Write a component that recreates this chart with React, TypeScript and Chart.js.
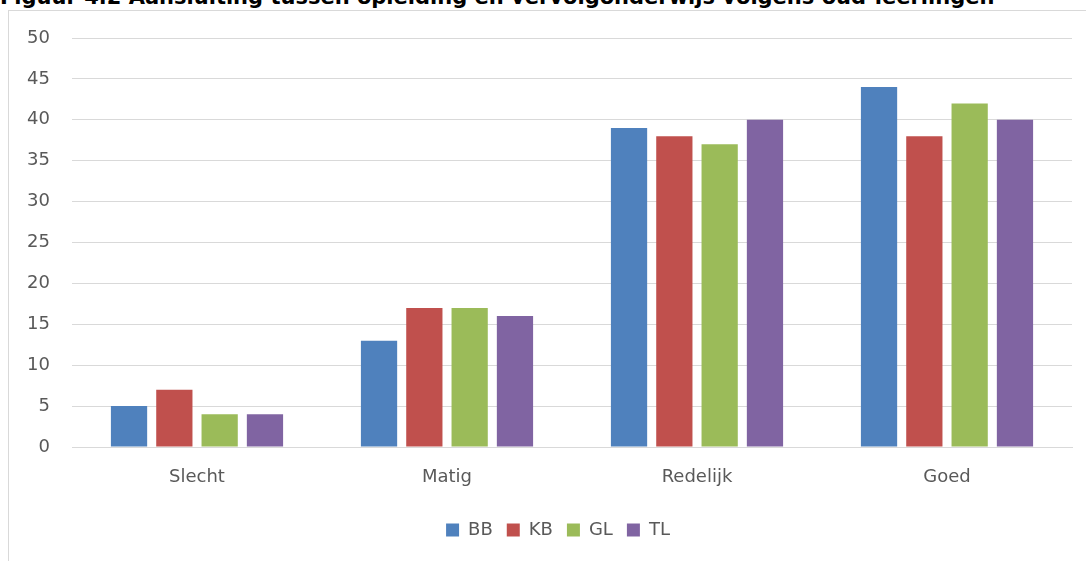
import React, { useEffect, useRef } from "react";
import { Chart, registerables } from "chart.js";

Chart.register(...registerables);

const categories = ["Slecht", "Matig", "Redelijk", "Goed"];
const seriesNames = ["BB", "KB", "GL", "TL"];
const bbValues = [5, 13, 39, 44];
const kbValues = [7, 17, 38, 38];
const glValues = [4, 17, 37, 42];
const tlValues = [4, 16, 40, 40];
const seriesColors = ["#4F81BD", "#C0504D", "#9BBB59", "#8064A2"];
const titleText = "Figuur 4.2 Aansluiting tussen opleiding en vervolgonderwijs volgens oud-leerlingen";

const legendShift = {
  id: "legendShift",
  afterLayout(chart: any) {
    const l = chart.legend;
    if (l) {
      l.left += 22;
      l.right += 22;
    }
  },
};

export default function App() {
  const ref = useRef<HTMLCanvasElement | null>(null);

  useEffect(() => {
    document.body.style.margin = "0";
    const values = [bbValues, kbValues, glValues, tlValues];
    const chart = new Chart(ref.current!, {
      type: "bar",
      data: {
        labels: categories,
        datasets: seriesNames.map((n, i) => ({
          label: n,
          data: values[i],
          backgroundColor: seriesColors[i],
          borderWidth: 0,
          categoryPercentage: 0.725,
          barPercentage: 0.8,
        })),
      },
      plugins: [legendShift],
      options: {
        animation: false,
        responsive: false,
        devicePixelRatio: 1,
        layout: { padding: { top: 38, right: 14, bottom: 12, left: 0 } },
        plugins: {
          title: { display: false },
          tooltip: { enabled: false },
          legend: {
            position: "bottom",
            labels: {
              boxWidth: 13,
              boxHeight: 13,
              padding: 14,
              color: "#595959",
              font: { family: "DejaVu Sans", size: 18 },
            },
          },
        },
        scales: {
          x: {
            grid: { display: false, drawTicks: false },
            border: { display: true, color: "#d9d9d9", width: 1 },
            ticks: {
              color: "#595959",
              padding: 20,
              font: { family: "DejaVu Sans", size: 18 },
            },
            afterFit: (s: any) => {
              s.height = 60;
            },
          },
          y: {
            min: 0,
            max: 50,
            grid: { color: "#d9d9d9", lineWidth: 1, drawTicks: false },
            border: { display: false },
            ticks: {
              stepSize: 5,
              color: "#595959",
              padding: 22,
              font: { family: "DejaVu Sans", size: 18 },
            },
            afterFit: (s: any) => {
              s.width = 72;
            },
          },
        },
      },
    });
    return () => chart.destroy();
  }, []);

  return (
    <div style={{ position: "relative", width: 1086, height: 561, overflow: "hidden", background: "#fff" }}>
      <div
        style={{
          position: "absolute",
          left: 0,
          top: -13,
          whiteSpace: "nowrap",
          fontFamily: "DejaVu Sans",
          fontWeight: "bold",
          fontSize: 21,
          lineHeight: "21px",
          color: "#000",
        }}
      >
        {titleText}
      </div>
      <div
        style={{
          position: "absolute",
          left: 8,
          top: 10,
          width: 1200,
          height: 700,
          border: "1px solid #d9d9d9",
        }}
      />
      <canvas ref={ref} width={1086} height={561} style={{ position: "absolute", left: 0, top: 0 }} />
    </div>
  );
}
